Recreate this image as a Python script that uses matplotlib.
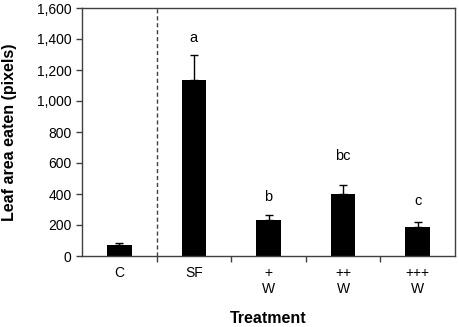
import numpy as np
import matplotlib
matplotlib.use("Agg")
import matplotlib.pyplot as plt
from matplotlib.ticker import FuncFormatter

plt.rcParams['font.family'] = ['Liberation Sans', 'DejaVu Sans']

# data
treatments = ["C", "SF", "+\nW", "++\nW", "+++\nW"]
leaf_eaten = [70, 1135, 234, 398, 189]
errors = [16, 160, 28, 60, 32]
letters = ["", "a", "b", "bc", "c"]
letter_y = [0, 1380, 355, 620, 330]

fig = plt.figure(figsize=(4.59, 3.27), dpi=100)
ax = fig.add_axes([82 / 459, 71 / 327, 373 / 459, 248 / 327])

x = np.arange(len(treatments))
ax.bar(x, leaf_eaten, width=0.33, color="black", zorder=2)
ax.errorbar(x, leaf_eaten, yerr=[np.zeros(len(errors)), errors], fmt="none",
            ecolor="black", elinewidth=1, capsize=3, capthick=1, zorder=3)

for xi, lab, ly in zip(x, letters, letter_y):
    if lab:
        ax.text(xi, ly, lab, ha="center", va="baseline", fontsize=10.5)

# separator between control and the rest
ax.axvline(0.5, color="#404040", linestyle=(0, (3, 2)), linewidth=1)

ax.set_xlim(-0.5, len(treatments) - 0.5)
ax.set_ylim(0, 1600)
ax.set_yticks(np.arange(0, 1601, 200))
ax.yaxis.set_major_formatter(FuncFormatter(lambda v, p: f"{int(v):,}"))

ax.set_xticks(x)
ax.set_xticklabels(treatments, fontsize=10, va="top", linespacing=1.2)
ax.set_xticks(np.arange(0.5, len(treatments) - 0.5, 1), minor=True)
ax.tick_params(axis="x", which="major", length=0, pad=7)
ax.tick_params(axis="x", which="minor", length=4, width=1, color="#404040", direction="out")
ax.tick_params(axis="y", length=4, width=1, color="#404040", labelsize=10)

for s in ax.spines.values():
    s.set_color("#404040")
    s.set_linewidth(1)

ax.set_ylabel("Leaf area eaten (pixels)", fontsize=11.5, fontweight="bold")
ax.yaxis.set_label_coords(-0.174, 0.5)
ax.set_xlabel("Treatment", fontsize=11.5, fontweight="bold")
ax.xaxis.set_label_coords(0.5, -0.22)

fig.savefig("out.png", dpi=100)
